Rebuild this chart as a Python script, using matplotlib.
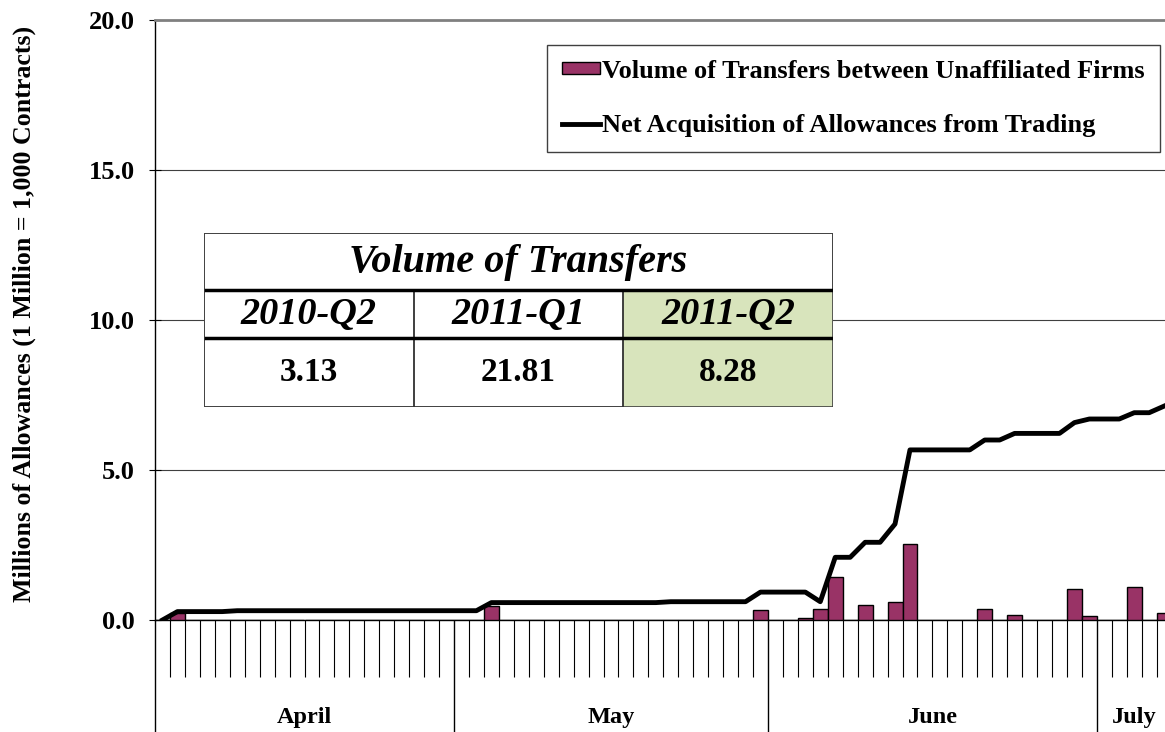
import numpy as np
import matplotlib.pyplot as plt
from matplotlib.patches import Patch, Rectangle
from matplotlib.lines import Line2D
import matplotlib.transforms as mtransforms

plt.rcParams['font.family'] = ['Liberation Serif', 'DejaVu Serif']

# trading days, April 1 - July 8 2011
months = ['April', 'May', 'June', 'July']
days_per_month = [20, 21, 22, 5]

# daily volume of transfers between unaffiliated firms (millions)
transfers = [0.00, 0.25, 0.00, 0.00, 0.00, -0.03, 0.00, 0.00, 0.00, 0.00,
             0.00, 0.00, 0.00, 0.00, 0.00, 0.00, 0.00, 0.00, 0.00, 0.00,
             0.00, 0.00, 0.47, 0.00, 0.00, 0.00, 0.00, 0.00, 0.00, 0.00,
             0.00, 0.00, 0.00, 0.00, -0.03, 0.00, 0.00, 0.00, 0.00, 0.00,
             0.35, 0.00, 0.00, 0.08, 0.36, 1.44, 0.00, 0.49, 0.00, 0.59,
             2.52, 0.00, 0.00, 0.00, 0.00, 0.36, 0.00, 0.17, 0.00, 0.00,
             0.00, 1.04, 0.12, 0.00, 0.00, 1.09, 0.00, 0.22]

# net acquisition of allowances from trading (millions)
net_acq = [0.00, 0.28, 0.28, 0.28, 0.28, 0.31, 0.31, 0.31, 0.31, 0.31,
           0.31, 0.31, 0.31, 0.31, 0.31, 0.31, 0.31, 0.31, 0.31, 0.31,
           0.31, 0.31, 0.58, 0.58, 0.58, 0.58, 0.58, 0.58, 0.58, 0.58,
           0.58, 0.58, 0.58, 0.58, 0.61, 0.61, 0.61, 0.61, 0.61, 0.61,
           0.93, 0.93, 0.93, 0.93, 0.61, 2.09, 2.09, 2.59, 2.59, 3.20,
           5.67, 5.67, 5.67, 5.67, 5.67, 6.00, 6.00, 6.22, 6.22, 6.22,
           6.22, 6.58, 6.70, 6.70, 6.70, 6.91, 6.91, 7.13]

quarters = ['2010-Q2', '2011-Q1', '2011-Q2']
quarter_volumes = [3.13, 21.81, 8.28]

W, H = 1165, 732
fig = plt.figure(figsize=(W / 100, H / 100), dpi=100)
ax = fig.add_axes([155 / W, 112 / H, 1016.6 / W, 600 / H])

n = len(transfers)
x = np.arange(n)
ax.bar(x, transfers, width=1.0, color='#993366', edgecolor='black',
       linewidth=1, zorder=3)
ax.plot(x, net_acq, color='black', lw=3.5, zorder=4)

ax.set_xlim(-0.5, n - 0.5)
ax.set_ylim(0, 20)

for yv in [5, 10, 15]:
    ax.axhline(yv, color='#404040', lw=0.8, zorder=1)

ax.set_yticks([0, 5, 10, 15, 20])
ax.set_yticklabels(['%.1f' % v for v in [0, 5, 10, 15, 20]],
                   fontsize=19, fontweight='bold')
ax.tick_params(axis='y', direction='inout', length=9, width=0.8, pad=10)

bounds = np.concatenate([[0], np.cumsum(days_per_month)]) - 0.5
ax.set_xticks(bounds)
ax.set_xticks(np.arange(n + 1) - 0.5, minor=True)
ax.tick_params(axis='x', which='major', direction='out', length=84,
               width=1, labelbottom=False)
ax.tick_params(axis='x', which='minor', direction='out', length=41,
               width=0.8, labelbottom=False)

ax.spines['top'].set_color('#808080')
ax.spines['top'].set_linewidth(2)
ax.spines['right'].set_visible(False)
ax.spines['left'].set_linewidth(1)
ax.spines['bottom'].set_linewidth(1)

trans = mtransforms.blended_transform_factory(ax.transData, ax.transAxes)
for name, a, b in zip(months, bounds[:-1], bounds[1:]):
    ax.text((a + b) / 2, -0.163, name, transform=trans, ha='center',
            va='center', fontsize=17.5, fontweight='bold')

fig.text(24 / W, 1 - 314 / H,
         'Millions of Allowances (1 Million = 1,000 Contracts)',
         rotation=90, ha='center', va='center', fontsize=18.6,
         fontweight='bold')

handles = [Patch(facecolor='#993366', edgecolor='black', linewidth=1),
           Line2D([0], [0], color='black', lw=3.5)]
labels = ['Volume of Transfers between Unaffiliated Firms',
          'Net Acquisition of Allowances from Trading']
leg = ax.legend(handles, labels, loc='upper left',
                bbox_to_anchor=(547 / W, 1 - 45 / H),
                bbox_transform=fig.transFigure, borderaxespad=0,
                prop={'weight': 'bold', 'size': 19}, handlelength=1.45,
                handleheight=0.35, handletextpad=0.1, labelspacing=1.2,
                borderpad=0.55, fancybox=False, framealpha=1)
leg.get_frame().set_edgecolor('#404040')
leg.get_frame().set_linewidth(1)
leg.set_zorder(10)

# summary table
tax = fig.add_axes([204 / W, 1 - 407 / H, 629 / W, 174 / H])
tax.set_zorder(5)
tax.set_xlim(0, 3)
tax.set_ylim(174, 0)
tax.axis('off')
row_edges = [0, 57, 105, 174]
tax.add_patch(Rectangle((0, 0), 3, 174, facecolor='white',
                        edgecolor='#404040', lw=1.2))
tax.add_patch(Rectangle((2, row_edges[1]), 1, 174 - row_edges[1],
                        facecolor='#d8e4bc', edgecolor='none'))
tax.text(1.5, (row_edges[0] + row_edges[1]) / 2 + 1, 'Volume of Transfers',
         ha='center', va='center', fontsize=29, style='italic',
         fontweight='bold')
for i, (q, v) in enumerate(zip(quarters, quarter_volumes)):
    tax.text(i + 0.5, (row_edges[1] + row_edges[2]) / 2 + 1, q,
             ha='center', va='center', fontsize=27.5, style='italic',
             fontweight='bold')
    tax.text(i + 0.5, (row_edges[2] + row_edges[3]) / 2, '%.2f' % v,
             ha='center', va='center', fontsize=24, fontweight='bold')
for c in [1, 2]:
    tax.plot([c, c], [row_edges[1], 174], color='#303030', lw=1.3)
for r in row_edges[1:3]:
    tax.plot([0.01, 3], [r, r], color='black', lw=2.5)
tax.add_patch(Rectangle((0, 0), 3, 174, facecolor='none',
                        edgecolor='#404040', lw=1.2))

fig.savefig('out.png', dpi=100)
